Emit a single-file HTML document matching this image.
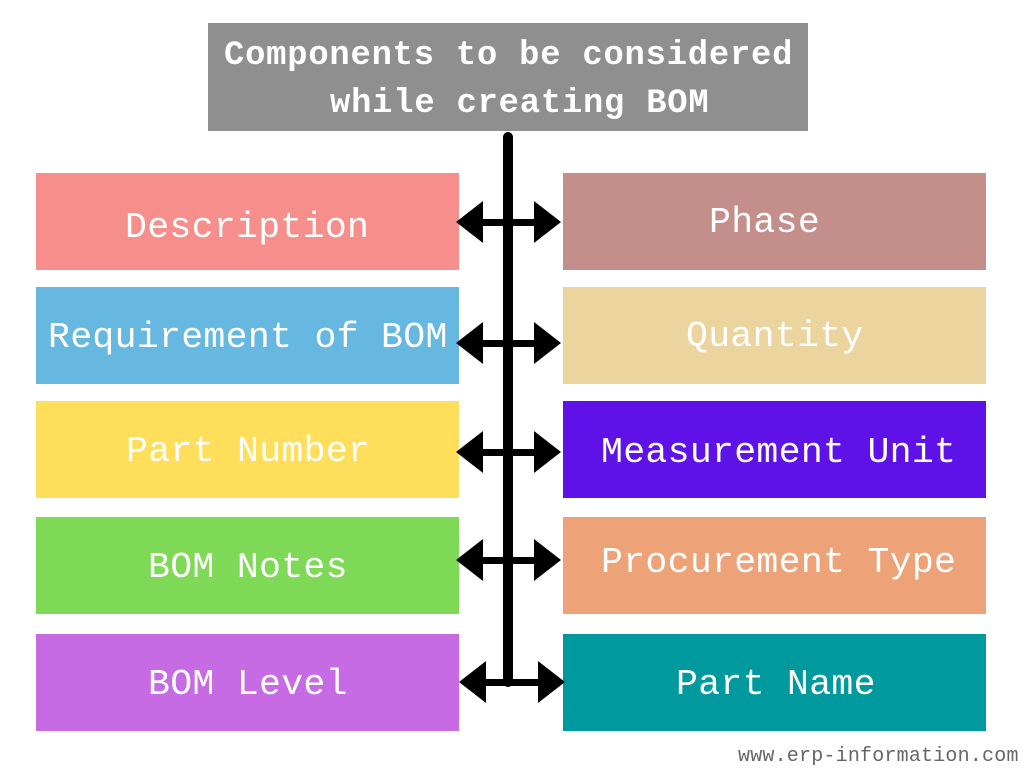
<!DOCTYPE html>
<html><head><style>
body{margin:0;width:1024px;height:768px;background:#fff;position:relative;overflow:hidden;font-family:"Liberation Mono","DejaVu Sans Mono",monospace}
.b{position:absolute;width:423px;height:97px}
.t{position:absolute;color:#fff;font-size:36.5px;line-height:40px;white-space:nowrap;letter-spacing:0.3px}
</style></head><body>
<div style="position:absolute;left:208px;top:23px;width:600px;height:108px;background:#8f8f8f"></div>
<div class="t" style="left:224px;top:36px;font-weight:bold;font-size:33.8px;letter-spacing:0.8px">Components to be considered</div>
<div class="t" style="left:330px;top:84px;font-weight:bold;font-size:33.8px;letter-spacing:0.8px">while creating BOM</div>

<div class="b" style="left:36px;top:173px;background:#f68f8c"></div>
<div class="b" style="left:36px;top:287px;background:#67b8e0"></div>
<div class="b" style="left:36px;top:401px;background:#fede5a"></div>
<div class="b" style="left:36px;top:517px;background:#7ed957"></div>
<div class="b" style="left:36px;top:634px;background:#c66be4"></div>
<div class="b" style="left:563px;top:173px;background:#c48e8b"></div>
<div class="b" style="left:563px;top:287px;background:#ecd49e"></div>
<div class="b" style="left:563px;top:401px;background:#5e12e8"></div>
<div class="b" style="left:563px;top:517px;background:#eda377"></div>
<div class="b" style="left:563px;top:634px;background:#009a9e"></div>

<div class="t" style="left:125px;top:208px">Description</div>
<div class="t" style="left:48px;top:318px">Requirement of BOM</div>
<div class="t" style="left:126px;top:432px">Part Number</div>
<div class="t" style="left:148px;top:548px">BOM Notes</div>
<div class="t" style="left:148px;top:665px">BOM Level</div>
<div class="t" style="left:709px;top:203px">Phase</div>
<div class="t" style="left:686px;top:317px">Quantity</div>
<div class="t" style="left:601px;top:433px">Measurement Unit</div>
<div class="t" style="left:601px;top:543px">Procurement Type</div>
<div class="t" style="left:676px;top:665px">Part Name</div>

<svg style="position:absolute;left:0;top:0" width="1024" height="768">
<line x1="508" y1="137" x2="508" y2="682" stroke="#000" stroke-width="10" stroke-linecap="round"/>
<g fill="#000">
<g id="a"><rect x="480" y="219" width="56" height="7"/><polygon points="456,222 483,201 483,243"/><polygon points="561,222 534,201 534,243"/></g>
<use href="#a" y="121"/>
<use href="#a" y="230"/>
<use href="#a" y="338"/>
<g><rect x="484" y="679" width="58" height="7"/><polygon points="459,682 486,661 486,703"/><polygon points="565,682 538,661 538,703"/></g>
</g>
</svg>
<div style="position:absolute;left:738px;top:745px;font-size:20px;letter-spacing:0.2px;color:#666;white-space:nowrap">www.erp-information.com</div>
</body></html>
